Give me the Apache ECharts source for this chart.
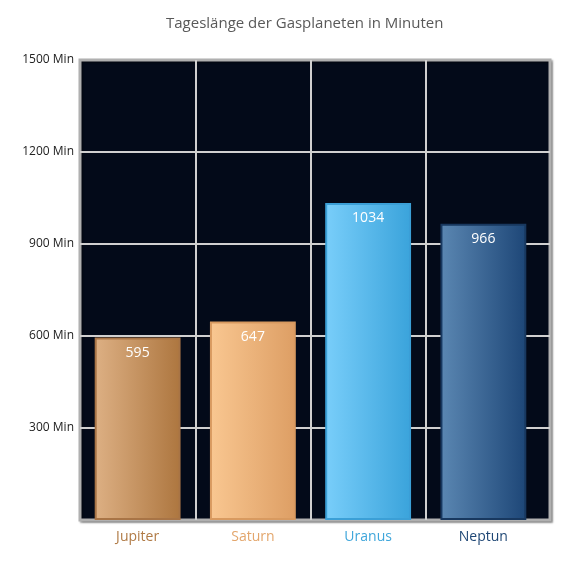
<!DOCTYPE html>
<html><head><meta charset="utf-8">
<script src="https://cdn.jsdelivr.net/npm/echarts@6/dist/echarts.min.js"></script>
<style>html,body{margin:0;padding:0;background:#fff}#c{width:570px;height:570px}</style>
</head><body><div id="c"></div>
<script>
const categories = ['Jupiter', 'Saturn', 'Uranus', 'Neptun'];
const values = [595, 647, 1034, 966];
const yTicks = [0, 300, 600, 900, 1200, 1500];
const labelColors = ['#b07a45', '#e3a66c', '#3fa6db', '#1f4775'];
const gradLeft = ['#ddb084', '#f9c791', '#79cefa', '#5b87b2'];
const gradRight = ['#ad763f', '#dd9e64', '#3aa3db', '#1d4677'];
const borders = ['#a87446', '#d89a60', '#3b9fd6', '#18385f'];

const chart = echarts.init(document.getElementById('c'));
chart.setOption({
  animation: false,
  title: {
    text: 'Tageslänge der Gasplaneten in Minuten',
    left: 161, top: 11,
    textStyle: {fontFamily: 'Open Sans', fontSize: 15, fontWeight: 'normal', color: '#595959'}
  },
  grid: [{
    left: 80, right: 20, top: 60, bottom: 50,
    show: true, backgroundColor: '#030a19', borderColor: '#b0b0b0', borderWidth: 3,
    shadowColor: 'rgba(0,0,0,0.35)', shadowBlur: 2, shadowOffsetX: 1.5, shadowOffsetY: 1.5
  }, {
    left: 80, right: 29, top: 60, bottom: 50
  }],
  xAxis: [{
    gridIndex: 0, type: 'value', min: 0, max: 1, show: false
  }, {
    gridIndex: 1, type: 'category', data: categories,
    axisLine: {show: false}, axisTick: {show: false},
    splitLine: {show: true, showMinLine: false, showMaxLine: false, lineStyle: {color: '#d0d0d0', width: 2}},
    axisLabel: {
      margin: 10, fontFamily: 'Open Sans', fontSize: 14,
      color: function (v, i) { return labelColors[categories.indexOf(v)]; }
    }
  }],
  yAxis: [{
    gridIndex: 0, type: 'value', min: yTicks[0], max: yTicks[yTicks.length - 1], interval: 300,
    axisLine: {show: false}, axisTick: {show: false},
    splitLine: {show: true, showMinLine: false, showMaxLine: false, lineStyle: {color: '#d0d0d0', width: 2}},
    axisLabel: {
      margin: 6, fontFamily: 'Open Sans', fontSize: 12, color: '#222',
      formatter: function (v) { return v === 0 ? '' : v + ' Min'; }
    }
  }, {
    gridIndex: 1, type: 'value', min: yTicks[0], max: yTicks[yTicks.length - 1], interval: 300,
    show: false, splitLine: {show: false}
  }],
  series: [{
    type: 'bar', xAxisIndex: 1, yAxisIndex: 1, barWidth: '74.5%',
    data: values.map(function (v, i) {
      return {
        value: v,
        itemStyle: {
          color: new echarts.graphic.LinearGradient(0, 0, 1, 0, [
            {offset: 0, color: gradLeft[i]}, {offset: 1, color: gradRight[i]}
          ]),
          borderColor: borders[i], borderWidth: 2
        }
      };
    }),
    label: {
      show: true, position: 'insideTop', distance: 8,
      color: '#ffffff', fontFamily: 'Open Sans', fontSize: 14
    }
  }]
});
</script></body></html>
